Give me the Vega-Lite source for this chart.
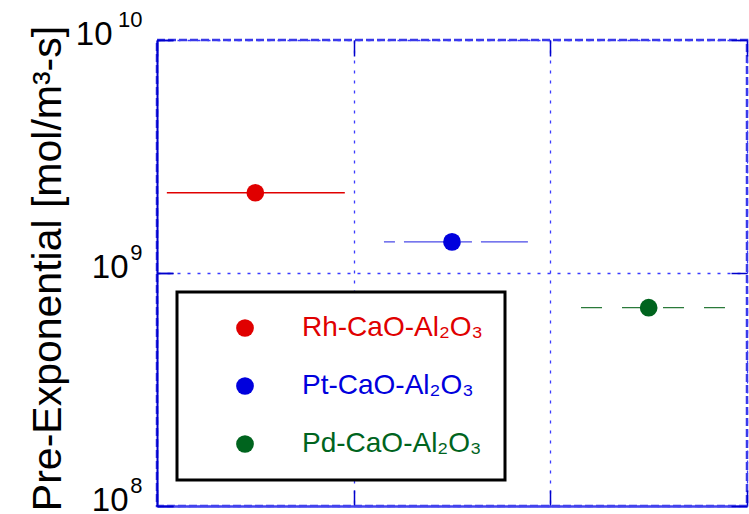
{
  "$schema": "https://vega.github.io/schema/vega-lite/v6.json",
  "width": 590,
  "height": 466,
  "autosize": "none",
  "padding": {"left": 157, "top": 40, "right": 2, "bottom": 8},
  "background": "white",
  "config": {
    "font": "Liberation Sans",
    "view": {"stroke": "#3a3ae6", "strokeWidth": 2.5, "strokeDash": [8, 3]},
    "legend": {"strokeWidth": 3}
  },
  "data": {
    "values": [
      {"series": "Rh-CaO-Al₂O₃", "x": 0.5, "lo": 0.05, "hi": 0.955, "value": 2210000000},
      {"series": "Pt-CaO-Al₂O₃", "x": 1.5, "lo": 1.154, "hi": 1.886, "value": 1360000000},
      {"series": "Pd-CaO-Al₂O₃", "x": 2.5, "lo": 2.156, "hi": 2.888, "value": 710000000}
    ]
  },
  "layer": [
    {
      "mark": {"type": "point", "filled": true, "size": 314, "opacity": 0},
      "encoding": {
        "x": {"field": "x", "type": "quantitative", "scale": {"domain": [0, 3], "nice": false, "zero": false}, "axis": null},
        "y": {
          "field": "value", "type": "quantitative",
          "scale": {"type": "log", "domain": [100000000, 10000000000], "nice": false},
          "axis": {"orient": "right", "values": [100000000, 1000000000, 10000000000], "labels": false, "tickSize": -16, "tickColor": "#0000cc", "tickWidth": 1.5, "grid": false, "domain": false, "title": null}
        }
      }
    },
    {
      "mark": {"type": "rule", "strokeWidth": 1.3},
      "encoding": {
        "x": {
          "field": "lo", "type": "quantitative",
          "axis": {"orient": "bottom", "values": [0, 1, 2, 3], "labels": false, "tickSize": -16, "tickColor": "#0000cc", "tickWidth": 1.5, "grid": true, "gridDash": [3, 7], "gridColor": "#3a3aff", "gridWidth": 1.3, "domainColor": "#4444ee", "domainWidth": 2.5, "title": null}
        },
        "x2": {"field": "hi"},
        "y": {
          "field": "value", "type": "quantitative",
          "axis": {
            "orient": "left", "values": [100000000, 1000000000, 10000000000],
            "labelExpr": "'10'",
            "labelFontSize": 33, "labelColor": "black",
            "labelPadding": {"condition": {"test": "datum.value > 5e9", "value": 61}, "value": 45},
            "labelFlush": false, "labelOverlap": false,
            "labelBaseline": "alphabetic", "labelOffset": 4,
            "tickSize": -16, "tickColor": "#0000cc", "tickWidth": 1.5,
            "domainColor": "#0000cc", "domainWidth": 2,
            "grid": true, "gridColor": "#3a3aff", "gridDash": [3, 7], "gridWidth": 1.3,
            "title": "Pre-Exponential [mol/m³-s]", "titleFontSize": 41, "titleFontWeight": "normal", "titleColor": "black",
            "titleX": -97, "titleY": 228, "titleAngle": -90, "titleAlign": "center", "titleBaseline": "alphabetic"
          }
        },
        "stroke": {
          "field": "series", "type": "nominal",
          "scale": {"range": ["#2a7a3a", "#4a4ae8", "#e00000"]},
          "legend": null
        },
        "strokeDash": {
          "field": "series", "type": "nominal",
          "scale": {"range": [[21, 20], [11, 9, 48, 9], [1, 0]]},
          "legend": null
        }
      }
    },
    {
      "mark": {"type": "point", "filled": true, "size": 314, "opacity": 1, "shape": "circle"},
      "encoding": {
        "x": {
          "field": "x", "type": "quantitative",
          "axis": {"orient": "top", "values": [0, 1, 2, 3], "labels": false, "tickSize": -16, "tickColor": "#0000cc", "tickWidth": 1.5, "grid": false, "domain": false, "title": null}
        },
        "y": {
          "field": "value", "type": "quantitative",
          "axis": {
            "orient": "left", "values": [100000000, 1000000000, 10000000000],
            "labelExpr": "datum.value > 5e9 ? '10' : datum.value > 5e8 ? '9' : '8'",
            "labelFontSize": 22, "labelColor": "black", "labelPadding": 31, "labelFlush": false, "labelOverlap": false,
            "labelBaseline": "alphabetic", "labelOffset": -14,
            "tickSize": -16, "tickColor": "#0000cc", "tickWidth": 1.5,
            "domain": false, "grid": false, "title": null
          }
        },
        "color": {
          "field": "series", "type": "nominal",
          "scale": {"domain": ["Rh-CaO-Al₂O₃", "Pt-CaO-Al₂O₃", "Pd-CaO-Al₂O₃"], "range": ["#e00000", "#0000dd", "#00641e"]},
          "legend": {
            "orient": "none", "legendX": 20, "legendY": 252, "title": null,
            "symbolSize": 314, "symbolType": "circle",
            "labelFontSize": 28, "labelLimit": 300,
            "labelColor": {"expr": "scale('color', datum.value)"},
            "padding": 22, "rowPadding": 30, "symbolOffset": 32, "labelOffset": 43,
            "strokeColor": "black", "fillColor": "white"
          }
        }
      }
    }
  ],
  "resolve": {"axis": {"x": "independent", "y": "independent"}}
}
